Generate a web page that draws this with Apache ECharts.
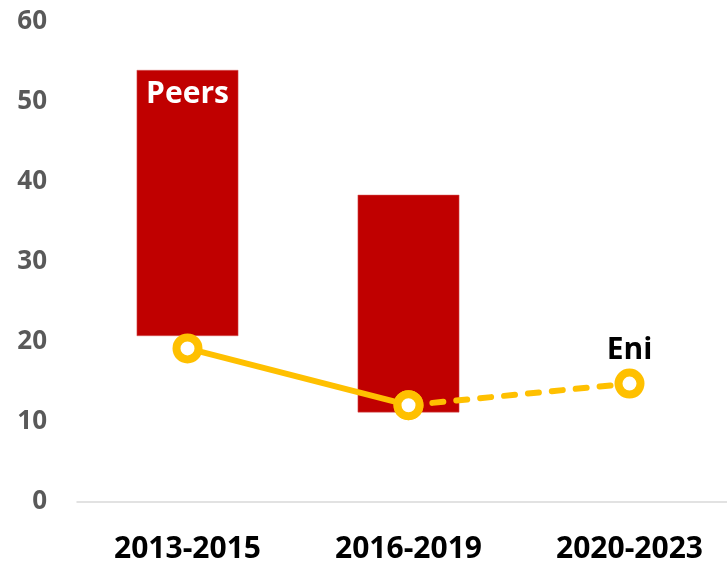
<!DOCTYPE html>
<html><head><meta charset="utf-8">
<script src="https://cdn.jsdelivr.net/npm/echarts@6/dist/echarts.min.js"></script>
<style>html,body{margin:0;padding:0;background:#fff;overflow:hidden}#c{width:742px;height:565px}</style>
</head><body><div id="c"></div>
<script>
const categories = ['2013-2015', '2016-2019', '2020-2023'];
const peersLow = [20.75, 11.2, null];
const peersHigh = [54, 38.4, null];
const eniActual = [19.2, 12.1, null];
const eniTarget = [null, 12.1, 14.8];
const yTicks = [0, 10, 20, 30, 40, 50, 60];

const FONT = 'Open Sans';
const chart = echarts.init(document.getElementById('c'));
const base = peersLow.map(v => v == null ? '-' : v);
const range = peersHigh.map((v, i) => v == null ? '-' : +(v - peersLow[i]).toFixed(2));
const toD = a => a.map(v => v == null ? '-' : v);
const markerStyle = { color: '#fff', borderColor: '#FFC000', borderWidth: 8 };

chart.setOption({
  animation: false,
  grid: { left: 77, top: 22, width: 663, height: 480 },
  xAxis: {
    type: 'category', data: categories,
    axisLine: { lineStyle: { color: '#d9d9d9', width: 1.5 } },
    axisTick: { show: false },
    axisLabel: { color: '#000', fontFamily: FONT, fontWeight: 'bold', fontSize: 30, margin: 32 }
  },
  yAxis: {
    type: 'value', min: yTicks[0], max: yTicks[yTicks.length - 1], interval: 10,
    splitLine: { show: false },
    axisLine: { show: false }, axisTick: { show: false },
    axisLabel: { color: '#595959', fontFamily: FONT, fontWeight: 'bold', fontSize: 26, margin: 30,
      padding: [3, 0, 0, 0] }
  },
  series: [
    { type: 'bar', stack: 'p', data: base, barWidth: '46%', itemStyle: { color: 'transparent' }, silent: true },
    { type: 'bar', stack: 'p', data: range, barWidth: '46%',
      itemStyle: { color: '#C00000', borderColor: '#d65a5a', borderWidth: 0.5 },
      label: { show: true, position: 'insideTop', distance: 9, formatter: p => p.dataIndex === 0 ? 'Peers' : '',
        color: '#fff', fontFamily: FONT, fontWeight: 'bold', fontSize: 30 } },
    { type: 'line', data: toD(eniActual), symbol: 'circle', symbolSize: 22, z: 5,
      lineStyle: { color: '#FFC000', width: 6 }, itemStyle: markerStyle },
    { type: 'line', data: toD(eniTarget), symbol: 'circle', symbolSize: 22, z: 5,
      lineStyle: { color: '#FFC000', width: 6, type: [11, 13], cap: 'round' }, itemStyle: markerStyle,
      label: { show: true, position: 'top', distance: 3, formatter: p => p.dataIndex === 2 ? 'Eni' : '',
        color: '#000', fontFamily: FONT, fontWeight: 'bold', fontSize: 30 } }
  ]
});
</script></body></html>
